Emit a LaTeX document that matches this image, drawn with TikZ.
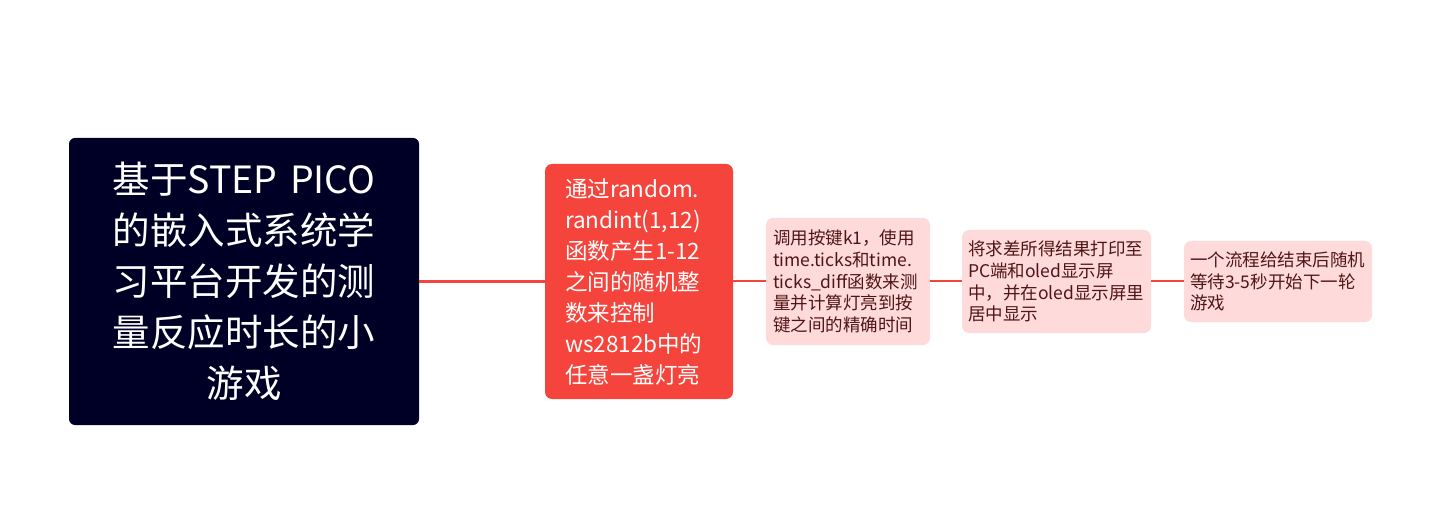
\documentclass[tikz,border=0pt]{standalone}
\usepackage{fontspec}
\setmainfont{Noto Sans CJK SC}
\usetikzlibrary{positioning}

\definecolor{rootblue}{RGB}{0,0,38}
\definecolor{mainred}{RGB}{245,68,59}
\definecolor{softpink}{RGB}{255,218,218}
\definecolor{darktext}{RGB}{80,22,22}

\tikzset{
    rootbox/.style={fill=rootblue, text=white, rounded corners=6pt, inner sep=0pt,
        minimum width=350pt, minimum height=287pt, align=center, text width=290pt,
        font=\fontsize{37.5}{51}\selectfont},
    mainbox/.style={fill=mainred, text=white, rounded corners=7pt, inner sep=0pt,
        minimum width=188pt, minimum height=235pt, align=left, text width=148pt,
        font=\fontsize{22.5}{31}\selectfont},
    subbox/.style={fill=softpink, text=darktext, rounded corners=7pt, inner sep=0pt,
        align=left, font=\fontsize{17.5}{21.7}\selectfont},
    link/.style={draw=mainred, line width=2pt},
}

\begin{document}
\begin{tikzpicture}[x=1pt, y=-1pt]
    \useasboundingbox (0,0) rectangle (1439,518);
    % nodes
    \node[rootbox] (root) at (244,281.5) {基于STEP PICO\\的嵌入式系统学\\习平台开发的测\\量反应时长的小\\游戏};
    \node[mainbox] (rand) at (639,281.5) {通过random.\\randint(1,12)\\函数产生1-12\\之间的随机整\\数来控制\\ws2812b中的\\任意一盏灯亮};
    \node[subbox, minimum width=164pt, minimum height=127pt, text width=150pt] (ticks) at (848,281.5)
        {调用按键k1，使用\\time.ticks和time.\\ticks\_diff函数来测\\量并计算灯亮到按\\键之间的精确时间};
    \node[subbox, minimum width=189pt, minimum height=103pt, text width=177pt] (show) at (1056.5,281.5)
        {将求差所得结果打印至\\PC端和oled显示屏\\中，并在oled显示屏里\\居中显示};
    \node[subbox, minimum width=188pt, minimum height=81pt, text width=176pt] (again) at (1278,281.5)
        {一个流程给结束后随机\\等待3-5秒开始下一轮\\游戏};
    % connectors
    \draw[link, line width=3pt] (root) -- (rand);
    \draw[link] (rand) -- (ticks);
    \draw[link] (ticks) -- (show);
    \draw[link] (show) -- (again);
\end{tikzpicture}
\end{document}
